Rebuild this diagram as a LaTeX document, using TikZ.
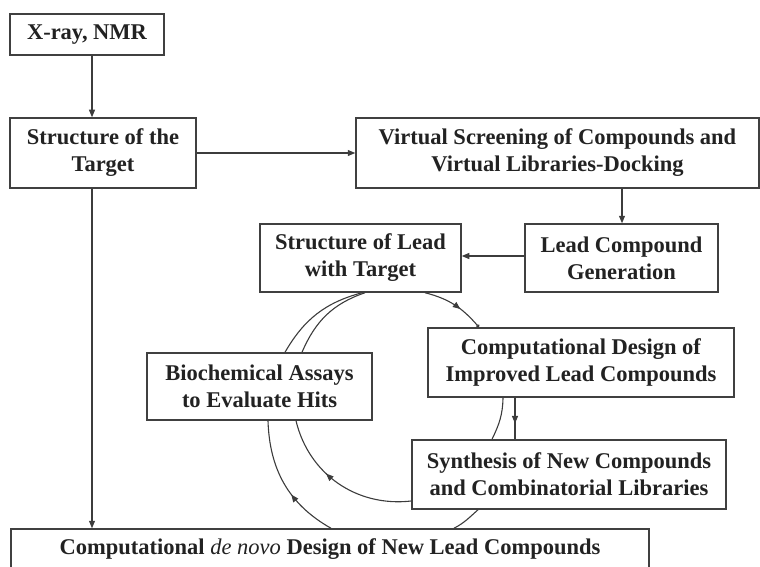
\documentclass[tikz,border=0pt]{standalone}
\usepackage{fontspec}
\setmainfont{Liberation Serif}
\usetikzlibrary{arrows.meta,decorations.markings,calc}
\definecolor{boxc}{HTML}{404040}
\definecolor{linec}{HTML}{3C3C3C}
\definecolor{txtc}{HTML}{222222}
\begin{document}
\begin{tikzpicture}[x=1pt,y=1pt,
  box/.style={draw=boxc, line width=1.5pt, fill=white, inner sep=0pt, align=center,
    font=\fontsize{22.5}{27}\selectfont\bfseries, text=txtc},
  conn/.style={color=linec, line width=1.1pt},
  arr/.style={conn, -{Triangle[length=7.5pt,width=6pt]}},
  midarr/.style={conn, postaction={decorate}, decoration={markings,
    mark=at position #1 with {\arrow{Triangle[length=7.5pt,width=6pt]}}}},
]
\useasboundingbox (0,0) rectangle (760,-567);
\clip (0,0) rectangle (760,-567);

% boxes
\node[box, minimum width=154, minimum height=41] (xray) at (87,-34.5) {X-ray, NMR};
\node[box, minimum width=186, minimum height=70] (target) at (103,-153) {Structure of the\\Target};
\node[box, minimum width=403, minimum height=70] (vs) at (557.5,-153) {Virtual Screening of Compounds and\\Virtual Libraries-Docking};
\node[box, minimum width=193, minimum height=68] (lcg) at (621.5,-258) {Lead Compound\\Generation};
\node[box, minimum width=201, minimum height=68] (lead) at (360.5,-258) {Structure of Lead\\with Target};
\node[box, minimum width=306, minimum height=69] (cd) at (581,-362.5) {Computational Design of\\Improved Lead Compounds};
\node[box, minimum width=314, minimum height=69] (syn) at (569,-474.5) {Synthesis of New Compounds\\and Combinatorial Libraries};
\node[box, minimum width=225, minimum height=67] (bio) at (259.5,-386.5) {Biochemical Assays\\to Evaluate Hits};
\node[box, minimum width=638, minimum height=41] (denovo) at (330,-549.5) {Computational \textmd{\itshape de novo} Design of New Lead Compounds};

% straight connectors
\draw[arr] (xray.south -| 92,0) -- (target.north -| 92,0);
\draw[arr] (target.east) -- (vs.west);
\draw[arr] (vs.south -| 622,0) -- (lcg.north -| 622,0);
\draw[arr] (lcg.west |- 0,-256) -- (lead.east |- 0,-256);
\draw[arr] (target.south -| 92,0) -- (denovo.north -| 92,0);
\draw[midarr=0.62] (cd.south -| 515,0) -- (syn.north -| 515,0);

% inner loop
\draw[midarr=0.6, -{Circle[open,length=3.5pt,width=3.5pt]}] (lead.south -| 425,0) to[out=-14,in=131] (cd.north -| 479,0);
\draw[midarr=0.6] (syn.west |- 0,-501) to[out=186.5,in=-76.5] (bio.south -| 296,0);
\draw[conn] (bio.north -| 302,0) to[out=66.8,in=198.8] (lead.south -| 365,0);
\draw[conn] (syn.north -| 492,0) to[out=64,in=-91] (cd.south -| 503,0);

% outer loop
\draw[conn] (lead.south -| 362,0) to[out=195,in=60] (bio.north -| 285,0);
\draw[midarr=0.4] (denovo.north -| 331,0) to[out=150.5,in=-88.2] (bio.south -| 268,0);
\draw[conn] (denovo.north -| 454,0) to[out=27.6,in=221.8] (syn.south -| 478,0);
\end{tikzpicture}
\end{document}
